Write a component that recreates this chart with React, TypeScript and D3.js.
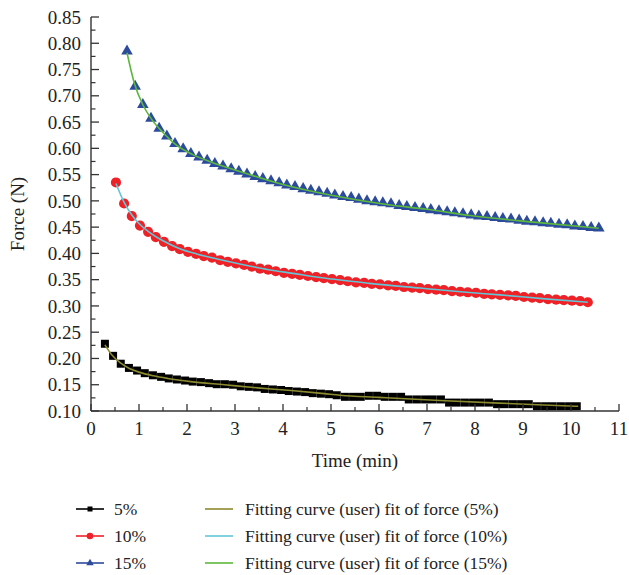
import * as d3 from "d3";

// time (min) of each sample
const time5 = [0.29, 0.46, 0.62, 0.79, 0.96, 1.12, 1.29, 1.46, 1.62, 1.79, 1.96, 2.12, 2.29, 2.46, 2.62, 2.79, 2.96, 3.12, 3.29, 3.46, 3.62, 3.79, 3.96, 4.12, 4.29, 4.46, 4.62, 4.79, 4.96, 5.12, 5.29, 5.46, 5.62, 5.79, 5.96, 6.12, 6.29, 6.46, 6.62, 6.79, 6.96, 7.12, 7.29, 7.46, 7.62, 7.79, 7.96, 8.12, 8.29, 8.46, 8.62, 8.79, 8.96, 9.12, 9.29, 9.46, 9.62, 9.79, 9.96, 10.12];
const force5 = [0.228, 0.205, 0.190, 0.182, 0.177, 0.172, 0.168, 0.165, 0.162, 0.160, 0.158, 0.156, 0.155, 0.153, 0.151, 0.151, 0.150, 0.147, 0.146, 0.145, 0.142, 0.141, 0.140, 0.138, 0.137, 0.136, 0.134, 0.133, 0.132, 0.130, 0.127, 0.127, 0.127, 0.129, 0.129, 0.127, 0.127, 0.127, 0.122, 0.122, 0.122, 0.122, 0.122, 0.116, 0.116, 0.116, 0.116, 0.116, 0.116, 0.113, 0.113, 0.113, 0.113, 0.113, 0.109, 0.109, 0.109, 0.109, 0.109, 0.109];

const time10 = [0.52, 0.69, 0.85, 1.02, 1.19, 1.35, 1.52, 1.69, 1.85, 2.02, 2.19, 2.35, 2.52, 2.69, 2.85, 3.02, 3.19, 3.35, 3.52, 3.69, 3.85, 4.02, 4.19, 4.35, 4.52, 4.69, 4.85, 5.02, 5.19, 5.35, 5.52, 5.69, 5.85, 6.02, 6.19, 6.35, 6.52, 6.69, 6.85, 7.02, 7.19, 7.35, 7.52, 7.69, 7.85, 8.02, 8.19, 8.35, 8.52, 8.69, 8.85, 9.02, 9.19, 9.35, 9.52, 9.69, 9.85, 10.02, 10.19, 10.35];
const force10 = [0.535, 0.495, 0.471, 0.453, 0.441, 0.431, 0.422, 0.414, 0.408, 0.403, 0.399, 0.395, 0.392, 0.387, 0.384, 0.381, 0.378, 0.375, 0.371, 0.369, 0.366, 0.363, 0.361, 0.359, 0.357, 0.355, 0.353, 0.351, 0.349, 0.347, 0.345, 0.344, 0.342, 0.341, 0.339, 0.338, 0.336, 0.335, 0.334, 0.332, 0.331, 0.330, 0.328, 0.327, 0.326, 0.325, 0.323, 0.322, 0.321, 0.320, 0.319, 0.317, 0.316, 0.315, 0.313, 0.312, 0.311, 0.310, 0.309, 0.307];

const time15 = [0.75, 0.92, 1.08, 1.25, 1.42, 1.58, 1.75, 1.92, 2.08, 2.25, 2.42, 2.58, 2.75, 2.92, 3.08, 3.25, 3.42, 3.58, 3.75, 3.92, 4.08, 4.25, 4.42, 4.58, 4.75, 4.92, 5.08, 5.25, 5.42, 5.58, 5.75, 5.92, 6.08, 6.25, 6.42, 6.58, 6.75, 6.92, 7.08, 7.25, 7.42, 7.58, 7.75, 7.92, 8.08, 8.25, 8.42, 8.58, 8.75, 8.92, 9.08, 9.25, 9.42, 9.58, 9.75, 9.92, 10.08, 10.25, 10.42, 10.58];
const force15 = [0.785, 0.718, 0.683, 0.657, 0.638, 0.623, 0.609, 0.599, 0.590, 0.583, 0.577, 0.571, 0.566, 0.561, 0.556, 0.551, 0.546, 0.542, 0.538, 0.534, 0.530, 0.527, 0.523, 0.520, 0.517, 0.514, 0.511, 0.508, 0.506, 0.503, 0.500, 0.498, 0.496, 0.494, 0.491, 0.489, 0.487, 0.485, 0.483, 0.481, 0.479, 0.477, 0.475, 0.473, 0.471, 0.470, 0.468, 0.466, 0.465, 0.463, 0.461, 0.460, 0.458, 0.457, 0.455, 0.454, 0.452, 0.451, 0.449, 0.448];

// fitted curves, read at a few points along each line
const fitTime5 = [0.29, 0.45, 0.62, 0.8, 1.0, 1.3, 1.6, 2.08, 2.78, 3.47, 4.17, 4.86, 5.19, 6.0, 7.27, 8.5, 9.3, 10.15];
const fitForce5 = [0.226, 0.205, 0.191, 0.181, 0.174, 0.167, 0.162, 0.156, 0.150, 0.144, 0.139, 0.133, 0.130, 0.126, 0.120, 0.115, 0.112, 0.109];
const fitTime10 = [0.52, 0.69, 0.85, 1.02, 1.19, 1.5, 1.85, 2.2, 2.7, 3.2, 3.7, 4.2, 4.77, 5.8, 6.85, 7.7, 8.52, 9.4, 10.35];
const fitForce10 = [0.533, 0.497, 0.473, 0.455, 0.442, 0.424, 0.409, 0.399, 0.388, 0.378, 0.369, 0.362, 0.354, 0.343, 0.334, 0.327, 0.321, 0.314, 0.307];
const fitTime15 = [0.75, 0.9, 1.08, 1.25, 1.5, 1.78, 2.1, 2.5, 3.17, 4.0, 4.98, 6.16, 7.0, 7.9, 9.28, 10.58];
const fitForce15 = [0.782, 0.725, 0.683, 0.657, 0.63, 0.606, 0.589, 0.574, 0.554, 0.531, 0.511, 0.493, 0.484, 0.472, 0.459, 0.448];

const xTicks = [0, 1, 2, 3, 4, 5, 6, 7, 8, 9, 10, 11];
const yTicks = [0.10, 0.15, 0.20, 0.25, 0.30, 0.35, 0.40, 0.45, 0.50, 0.55, 0.60, 0.65, 0.70, 0.75, 0.80, 0.85];

const seriesLabels = ["5%", "10%", "15%"];
const fitLabels = [
  "Fitting curve (user) fit of force (5%)",
  "Fitting curve (user) fit of force (10%)",
  "Fitting curve (user) fit of force (15%)",
];

const font = "'Liberation Serif', 'Times New Roman', 'DejaVu Serif', serif";
const axisColor = "#333";

export default function App() {
  const width = 629, height = 575;

  const x = d3.scaleLinear().domain([0, 11]).range([91, 619]);
  const y = d3.scaleLinear().domain([0.10, 0.85]).range([411, 17]);

  const zip = (ts: number[], vs: number[]) => ts.map((t, i) => [t, vs[i]] as [number, number]);

  const series = [
    { pts: zip(time5, force5), color: "#000", shape: "square" },
    { pts: zip(time10, force10), color: "#ee2127", shape: "circle" },
    { pts: zip(time15, force15), color: "#2c4b9d", shape: "triangle" },
  ];
  const fits = [
    { pts: zip(fitTime5, fitForce5), color: "#8c8a2e" },
    { pts: zip(fitTime10, fitForce10), color: "#62c6d6" },
    { pts: zip(fitTime15, fitForce15), color: "#5cb83c" },
  ];

  const line = d3.line<[number, number]>()
    .x(d => x(d[0]))
    .y(d => y(d[1]))
    .curve(d3.curveMonotoneX);

  const tri = d3.symbol().type(d3.symbolTriangle).size(58)() as string;
  const triSmall = d3.symbol().type(d3.symbolTriangle).size(24)() as string;

  const marker = (shape: string, color: string, cx: number, cy: number, key: any, small = false) => {
    if (shape === "square") {
      const s = small ? 5 : 8;
      return <rect key={key} x={cx - s / 2} y={cy - s / 2} width={s} height={s} fill={color} />;
    }
    if (shape === "circle") {
      return <circle key={key} cx={cx} cy={cy} r={small ? 3.3 : 5.1} fill={color} />;
    }
    return <path key={key} d={small ? triSmall : tri} transform={`translate(${cx},${cy})`} fill={color} />;
  };

  const yMinor = d3.range(0.125, 0.85, 0.05);
  const xMinor = d3.range(0.5, 11, 1);

  return (
    <svg width={width} height={height}
      style={{ position: "absolute", left: 0, top: 0, background: "#fff", fontFamily: font }}>
      {/* markers */}
      {series.map((s, si) => (
        <g key={si}>
          {s.pts.map((p, i) => marker(s.shape, s.color, x(p[0]), y(p[1]), i))}
        </g>
      ))}
      {/* fitted curves */}
      {fits.map((f, i) => (
        <path key={i} d={line(f.pts) ?? ""} fill="none" stroke={f.color} strokeWidth={1.6} />
      ))}

      {/* y axis */}
      <line x1={91} x2={91} y1={y(0.85)} y2={y(0.10)} stroke={axisColor} strokeWidth={1.4} />
      {yTicks.map(t => (
        <g key={t}>
          <line x1={91} x2={99} y1={y(t)} y2={y(t)} stroke={axisColor} strokeWidth={1.3} />
          <text x={81} y={y(t)} dy="0.35em" textAnchor="end" fontSize={19} fill="#222">{t.toFixed(2)}</text>
        </g>
      ))}
      {yMinor.map(t => (
        <line key={t} x1={91} x2={95.5} y1={y(t)} y2={y(t)} stroke={axisColor} strokeWidth={1.2} />
      ))}

      {/* x axis */}
      <line x1={x(0)} x2={x(11)} y1={411} y2={411} stroke={axisColor} strokeWidth={1.4} />
      {xTicks.map(t => (
        <g key={t}>
          <line x1={x(t)} x2={x(t)} y1={411} y2={404} stroke={axisColor} strokeWidth={1.3} />
          <text x={x(t)} y={435} textAnchor="middle" fontSize={19} fill="#222">{t}</text>
        </g>
      ))}
      {xMinor.map(t => (
        <line key={t} x1={x(t)} x2={x(t)} y1={411} y2={407} stroke={axisColor} strokeWidth={1.2} />
      ))}

      {/* axis titles */}
      <text x={355} y={467} textAnchor="middle" fontSize={19} fill="#222">Time (min)</text>
      <text transform="translate(24,214) rotate(-90)" textAnchor="middle" fontSize={19} fill="#222">Force (N)</text>

      {/* legend */}
      {seriesLabels.map((lab, i) => {
        const ly = 509 + i * 27;
        const s = series[i];
        return (
          <g key={lab}>
            <line x1={76} x2={104} y1={ly} y2={ly} stroke={s.color} strokeWidth={1.6} />
            {marker(s.shape, s.color, 90, ly, "m", true)}
            <text x={114} y={ly} dy="0.33em" fontSize={17.5} fill="#222">{lab}</text>
          </g>
        );
      })}
      {fitLabels.map((lab, i) => {
        const ly = 509 + i * 27;
        return (
          <g key={lab}>
            <line x1={205} x2={233} y1={ly} y2={ly} stroke={fits[i].color} strokeWidth={1.6} />
            <text x={245} y={ly} dy="0.33em" fontSize={17.5} fill="#222">{lab}</text>
          </g>
        );
      })}
    </svg>
  );
}
